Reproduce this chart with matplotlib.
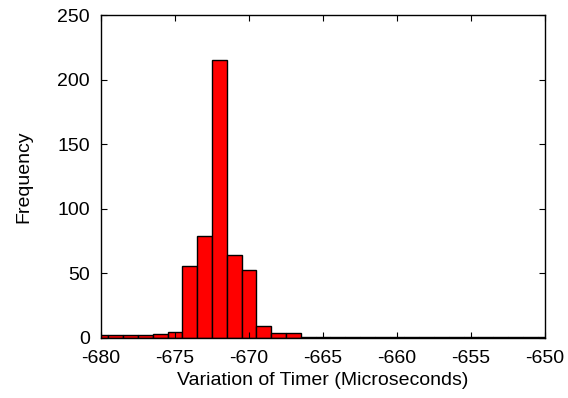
import matplotlib
matplotlib.use("Agg")
import matplotlib.pyplot as plt
from matplotlib.ticker import FuncFormatter

plt.rcParams['font.family'] = ['Liberation Sans', 'DejaVu Sans']
plt.rcParams['axes.unicode_minus'] = False

bin_centers = [-680, -679, -678, -677, -676, -675, -674, -673, -672, -671, -670,
               -669, -668, -667, -666, -665, -664, -663, -662, -661, -660, -659,
               -658, -657, -656, -655, -654, -653, -652, -651, -650]
counts = [2, 2, 2, 2, 3, 5, 56, 79, 215, 64, 53,
          9, 4, 4, 1, 1, 1, 1, 1, 1, 1, 1,
          1, 1, 1, 1, 1, 1, 1, 1, 1]
xticks = [-680, -675, -670, -665, -660, -655, -650]
yticks = [0, 50, 100, 150, 200, 250]

fig = plt.figure(figsize=(5.68, 3.98), dpi=100)
ax = fig.add_axes([101/568, 1-338/398, 444/568, 323/398])
ax.bar(bin_centers, counts, width=1.0, color='#ff0000', edgecolor='black', linewidth=1.0)
ax.set_xlim(-680, -650)
ax.set_ylim(0, 250)
ax.set_xticks(xticks)
ax.set_yticks(yticks)
ax.xaxis.set_major_formatter(FuncFormatter(lambda v, p: '%d' % v))
ax.yaxis.set_major_formatter(FuncFormatter(lambda v, p: '%d' % v))
ax.tick_params(direction='in', top=True, right=True, length=4.5, width=0.8, labelsize=14)
ax.tick_params(axis='x', pad=8.5)
ax.tick_params(axis='y', pad=8)
for s in ax.spines.values():
    s.set_linewidth(1.0)
ax.set_xlabel('Variation of Timer (Microseconds)', fontsize=14, labelpad=4)
ax.set_ylabel('Frequency', fontsize=14, labelpad=18)
fig.savefig('out.png', dpi=100)
